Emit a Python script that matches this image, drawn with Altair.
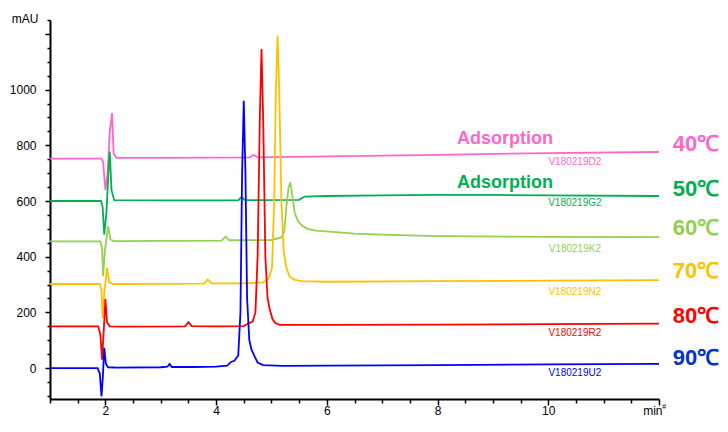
import altair as alt
import pandas as pd

# ---------------- data ----------------
series = ["40", "50", "60", "70", "80", "90"]
line_colors = ["#FF66CC", "#00B050", "#92D050", "#FFC000", "#FF0000", "#0000FF"]
label_colors = ["#FF66CC", "#00B050", "#92D050", "#FFC000", "#FF0000", "#0033CC"]

t_40 = [1.0, 1.93, 1.96, 2.00, 2.04, 2.08, 2.12, 2.15, 2.2, 3.0, 4.6, 4.68, 4.76, 6.0, 8.0, 10.0, 12.0]
v_40 = [752, 752, 740, 640, 700, 850, 916, 770, 755, 755, 757, 765, 757, 760, 766, 772, 776]

t_50 = [1.0, 1.92, 1.95, 1.98, 2.02, 2.06, 2.08, 2.11, 2.16, 3.0, 4.40, 4.46, 4.52, 5.5, 5.6, 6.0, 7.0, 8.0, 9.0, 10.0, 12.0]
v_50 = [600, 600, 580, 479, 560, 720, 778, 640, 603, 602, 602, 615, 603, 604, 616, 618, 620, 622, 622, 620, 618]

t_60 = [1.0, 1.91, 1.94, 1.96, 1.99, 2.05, 2.09, 2.15, 4.10, 4.17, 4.24, 5.0, 5.18, 5.23, 5.27, 5.31, 5.34,
        5.37, 5.42, 5.48, 5.55, 5.65, 5.8, 6.05, 6.5, 7.0, 8.0, 10.0, 12.0]
v_60 = [455, 455, 430, 330, 420, 510, 462, 456, 458, 472, 459, 460, 469, 490, 580, 650, 667,
        630, 557, 528, 512, 500, 494, 490, 483, 479, 474, 471, 470]

t_70 = [1.0, 1.90, 1.93, 1.95, 1.98, 2.03, 2.07, 2.15, 3.78, 3.85, 3.92, 4.5, 4.85, 4.95, 5.01, 5.05, 5.08,
        5.11, 5.14, 5.18, 5.22, 5.27, 5.33, 5.42, 5.55, 6.0, 8.0, 10.0, 12.0]
v_70 = [302, 302, 280, 180, 270, 360, 308, 302, 303, 318, 304, 304, 308, 321, 360, 600, 1000,
        1194, 1000, 600, 420, 360, 328, 317, 312, 310, 312, 314, 316]

t_80 = [1.0, 1.87, 1.91, 1.94, 1.97, 2.00, 2.03, 2.08, 2.3, 3.44, 3.50, 3.56, 4.0, 4.5, 4.58, 4.66, 4.71,
        4.75, 4.79, 4.82, 4.85, 4.89, 4.93, 4.97, 5.02, 5.07, 5.15, 5.3, 6.0, 8.0, 10.0, 12.0]
v_80 = [150, 150, 120, 30, 130, 248, 165, 150, 149, 150, 165, 151, 150, 151, 160, 167, 200,
        400, 900, 1146, 900, 400, 250, 210, 175, 162, 155, 155, 155, 156, 158, 160]

t_90 = [1.0, 1.86, 1.90, 1.93, 1.955, 1.98, 2.01, 2.05, 2.2, 3.0, 3.12, 3.16, 3.2, 3.6, 4.0, 4.2, 4.27,
        4.33, 4.40, 4.44, 4.47, 4.50, 4.53, 4.56, 4.60, 4.64, 4.70, 4.75, 4.85, 5.2, 6.0, 8.0, 10.0, 12.0]
v_90 = [0, 0, -20, -102, -30, 73, 15, 3, 2, 3, 5, 15, 4, 4, 5, 9, 22,
        26, 45, 200, 700, 960, 700, 250, 100, 66, 40, 20, 11, 8, 9, 11, 13, 15]

temp_labels = ["40℃", "50℃", "60℃", "70℃", "80℃", "90℃"]
temp_y = [805, 643, 503, 348, 188, 37]

sample_ids = ["V180219D2", "V180219G2", "V180219K2", "V180219N2", "V180219R2", "V180219U2"]
sample_y = [740, 593, 427, 273, 126, -17]

ads_labels = ["Adsorption", "Adsorption"]
ads_y = [823, 665]
ads_colors = ["#FF66CC", "#00B050"]

x_major = [2, 4, 6, 8, 10, 12]
x_minor = [1.0, 1.5, 2.5, 3.0, 3.5, 4.5, 5.0, 5.5, 6.5, 7.0, 7.5, 8.5, 9.0, 9.5, 10.5, 11.0, 11.5]
y_major = [0, 200, 400, 600, 800, 1000, 1200]
y_minor = [-100, -50, 50, 100, 150, 250, 300, 350, 450, 500, 550, 650, 700, 750, 850, 900, 950,
           1050, 1100, 1150, 1250]

# ---------------- tables ----------------
rows = []
for name, ts, vs in zip(series, [t_40, t_50, t_60, t_70, t_80, t_90], [v_40, v_50, v_60, v_70, v_80, v_90]):
    for i, (t, v) in enumerate(zip(ts, vs)):
        rows.append({"series": name, "t": t, "v": v, "i": i})
df = pd.DataFrame(rows)

temp_df = pd.DataFrame({"label": temp_labels, "y": temp_y, "col": label_colors, "x": [12.25] * 6})
id_df = pd.DataFrame({"label": sample_ids, "y": sample_y, "col": line_colors, "x": [10.48] * 6})
ads_df = pd.DataFrame({"label": ads_labels, "y": ads_y, "col": ads_colors, "x": [9.22] * 2})
hash_df = pd.DataFrame({"label": ["#"], "x": [12.06], "y": [-140]})

FONT = "Liberation Sans"
xscale = alt.Scale(domain=[1, 12], nice=False, zero=False)
yscale = alt.Scale(domain=[-111, 1250], nice=False, zero=False)

lines = alt.Chart(df).mark_line(strokeWidth=1.8, clip=True).encode(
    x=alt.X("t:Q", scale=xscale, axis=alt.Axis(
        values=x_major, labelExpr="datum.value == 12 ? 'min' : datum.label",
        labelFlush=True, labelFlushOffset=3,
        tickSize=6, tickWidth=1.5, tickColor="black", domainColor="black", domainWidth=2,
        labelFont=FONT, labelFontSize=12, labelColor="black", labelPadding=0,
        grid=False, title=None, orient="bottom")),
    y=alt.Y("v:Q", scale=yscale, axis=alt.Axis(
        values=y_major, format="d", labelExpr="datum.value == 1200 ? '' : datum.label",
        tickSize=5, tickWidth=1.5, tickColor="black", domainColor="black", domainWidth=2,
        labelFont=FONT, labelFontSize=12, labelColor="black", labelPadding=9,
        grid=False, title="mAU", titleAngle=0, titleX=-12, titleY=-2, titleAlign="right",
        titleBaseline="middle", titleFont=FONT, titleFontSize=12, titleFontWeight="normal",
        titleColor="black", orient="left")),
    color=alt.Color("series:N", scale=alt.Scale(domain=series, range=line_colors), legend=None),
    detail="series:N",
    order="i:Q",
)

minor = alt.Chart(df).mark_point(opacity=0).encode(
    x=alt.X("t:Q", scale=xscale, axis=alt.Axis(
        values=x_minor, labels=False, domain=False, tickSize=4, tickWidth=1.5,
        tickColor="black", grid=False, title=None, orient="bottom")),
    y=alt.Y("v:Q", scale=yscale, axis=alt.Axis(
        values=y_minor, labels=False, domain=False, tickSize=3, tickWidth=1.5,
        tickColor="black", grid=False, title=None, orient="left")),
)

temps = alt.Chart(temp_df).mark_text(
    align="left", baseline="middle", font=FONT, fontSize=22, fontWeight="bold"
).encode(
    x=alt.X("x:Q", scale=xscale, axis=None),
    y=alt.Y("y:Q", scale=yscale, axis=None),
    text="label:N",
    color=alt.Color("col:N", scale=None),
)

ids = alt.Chart(id_df).mark_text(
    align="center", baseline="middle", font=FONT, fontSize=10
).encode(
    x=alt.X("x:Q", scale=xscale, axis=None),
    y=alt.Y("y:Q", scale=yscale, axis=None),
    text="label:N",
    color=alt.Color("col:N", scale=None),
)

ads = alt.Chart(ads_df).mark_text(
    align="center", baseline="middle", font=FONT, fontSize=18, fontWeight="bold"
).encode(
    x=alt.X("x:Q", scale=xscale, axis=None),
    y=alt.Y("y:Q", scale=yscale, axis=None),
    text="label:N",
    color=alt.Color("col:N", scale=None),
)

hash_mark = alt.Chart(hash_df).mark_text(
    align="left", baseline="middle", font=FONT, fontSize=7, color="black"
).encode(
    x=alt.X("x:Q", scale=xscale, axis=None),
    y=alt.Y("y:Q", scale=yscale, axis=None),
    text="label:N",
)

chart = alt.layer(lines, minor, ads, ids, temps, hash_mark).resolve_axis(
    x="independent", y="independent"
).properties(
    width=609, height=379,
    autosize=alt.AutoSizeParams(type="none"),
    padding={"left": 42, "top": 12, "right": 61, "bottom": 20},
    background="white",
).configure_view(stroke=None)

chart.save("out.html", embed_options={"renderer": "svg", "actions": False})
